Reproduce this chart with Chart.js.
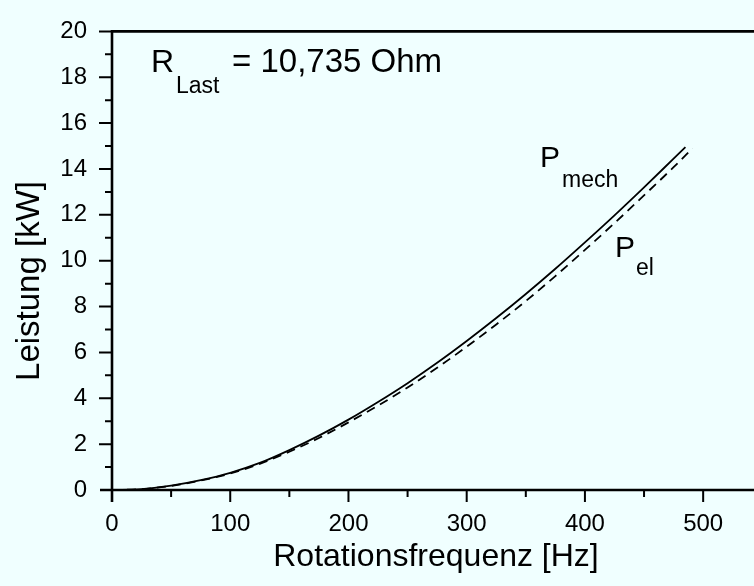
<!DOCTYPE html>
<html>
<head>
<meta charset="utf-8">
<script src="https://cdn.jsdelivr.net/npm/chart.js@4"></script>
<style>
  html, body { margin: 0; padding: 0; background: #F0FFFF; }
  canvas { display: block; background: #F0FFFF; }
</style>
</head>
<body>
<canvas id="powerChart" width="754" height="586"></canvas>
<script>
// Rotational frequency [Hz] and power [kW]
const freqMech = [0, 25, 50, 75, 100, 125, 150, 175, 200, 225, 250, 275, 300, 325, 350, 375, 400, 425, 450, 475, 485];
const powerMech = [0, 0.04, 0.19, 0.43, 0.75, 1.18, 1.74, 2.37, 3.07, 3.84, 4.66, 5.55, 6.5, 7.5, 8.55, 9.65, 10.8, 11.98, 13.2, 14.45, 14.95];

const freqEl = [0, 25, 50, 75, 100, 125, 150, 175, 200, 225, 250, 275, 300, 325, 350, 375, 400, 425, 450, 475, 491];
const powerEl = [0, 0.04, 0.18, 0.41, 0.72, 1.14, 1.67, 2.27, 2.95, 3.68, 4.47, 5.33, 6.25, 7.22, 8.24, 9.33, 10.47, 11.64, 12.85, 14.08, 14.9];

const xTicks = [0, 100, 200, 300, 400, 500];
const yTicks = [0, 2, 4, 6, 8, 10, 12, 14, 16, 18, 20];

const FONT = "'Liberation Sans', Arial, Helvetica, sans-serif";

const toPoints = (xs, ys) => xs.map((v, i) => ({ x: v, y: ys[i] }));

// Draws the frame, tick marks, axis titles and the text labels inside the plot
const decorPlugin = {
  id: 'decor',
  afterDraw(chart) {
    const { ctx, chartArea, scales: { x, y } } = chart;
    const { left, right, top, bottom } = chartArea;
    ctx.save();
    ctx.strokeStyle = '#000';
    ctx.fillStyle = '#000';

    // axes and top frame line
    ctx.lineWidth = 2.6;
    ctx.beginPath();
    ctx.moveTo(left, bottom + 12);
    ctx.lineTo(left, top);
    ctx.lineTo(right, top);
    ctx.moveTo(left - 12, bottom);
    ctx.lineTo(right, bottom);
    ctx.stroke();

    // tick marks
    ctx.lineWidth = 2;
    ctx.beginPath();
    for (let v = 50; v <= x.max; v += 50) {
      const px = x.getPixelForValue(v);
      const len = v % 100 === 0 ? 12 : 7;
      ctx.moveTo(px, bottom);
      ctx.lineTo(px, bottom + len);
    }
    for (let v = 1; v <= y.max; v += 1) {
      const py = y.getPixelForValue(v);
      const len = v % 2 === 0 ? 13 : 7;
      ctx.moveTo(left, py);
      ctx.lineTo(left - len, py);
    }
    ctx.stroke();

    // axis titles
    ctx.font = `32px ${FONT}`;
    ctx.textAlign = 'center';
    ctx.textBaseline = 'alphabetic';
    ctx.fillText('Rotationsfrequenz [Hz]', 436, 566);
    ctx.save();
    ctx.translate(39, 281);
    ctx.rotate(-Math.PI / 2);
    ctx.font = `33px ${FONT}`;
    ctx.fillText('Leistung [kW]', 0, 0);
    ctx.restore();

    // labels inside the plot
    ctx.textAlign = 'left';
    ctx.font = `32px ${FONT}`;
    ctx.fillText('R', 151, 72);
    ctx.font = `33px ${FONT}`;
    ctx.fillText('= 10,735 Ohm', 232, 72);
    ctx.font = `23px ${FONT}`;
    ctx.fillText('Last', 176, 93);

    ctx.font = `30px ${FONT}`;
    ctx.fillText('P', 540, 167);
    ctx.fillText('P', 615, 257);
    ctx.font = `23px ${FONT}`;
    ctx.fillText('mech', 562, 187);
    ctx.fillText('el', 636, 275);

    ctx.restore();
  }
};

const chartCtx = document.getElementById('powerChart').getContext('2d');
new Chart(chartCtx, {
  type: 'line',
  data: {
    datasets: [
      {
        label: 'P mech',
        data: toPoints(freqMech, powerMech),
        borderColor: '#000',
        borderWidth: 1.8,
        pointRadius: 0,
        cubicInterpolationMode: 'monotone'
      },
      {
        label: 'P el',
        data: toPoints(freqEl, powerEl),
        borderColor: '#000',
        borderWidth: 1.8,
        borderDash: [9, 6],
        pointRadius: 0,
        cubicInterpolationMode: 'monotone'
      }
    ]
  },
  options: {
    responsive: false,
    animation: false,
    layout: { padding: { top: 19, right: 0, left: 0, bottom: 0 } },
    plugins: {
      legend: { display: false },
      tooltip: { enabled: false }
    },
    scales: {
      x: {
        type: 'linear',
        min: 0,
        max: 543,
        grid: { display: false },
        border: { display: false },
        afterFit: (scale) => { scale.height = 96; },
        afterBuildTicks: (scale) => { scale.ticks = xTicks.map((v) => ({ value: v })); },
        ticks: {
          padding: 12,
          color: '#000',
          font: { family: FONT, size: 24 }
        }
      },
      y: {
        type: 'linear',
        min: 0,
        max: 20,
        grid: { display: false },
        border: { display: false },
        afterFit: (scale) => { scale.width = 112; },
        afterBuildTicks: (scale) => { scale.ticks = yTicks.map((v) => ({ value: v })); },
        ticks: {
          padding: 17,
          color: '#000',
          font: { family: FONT, size: 24 }
        }
      }
    }
  },
  plugins: [decorPlugin]
});
</script>
</body>
</html>
